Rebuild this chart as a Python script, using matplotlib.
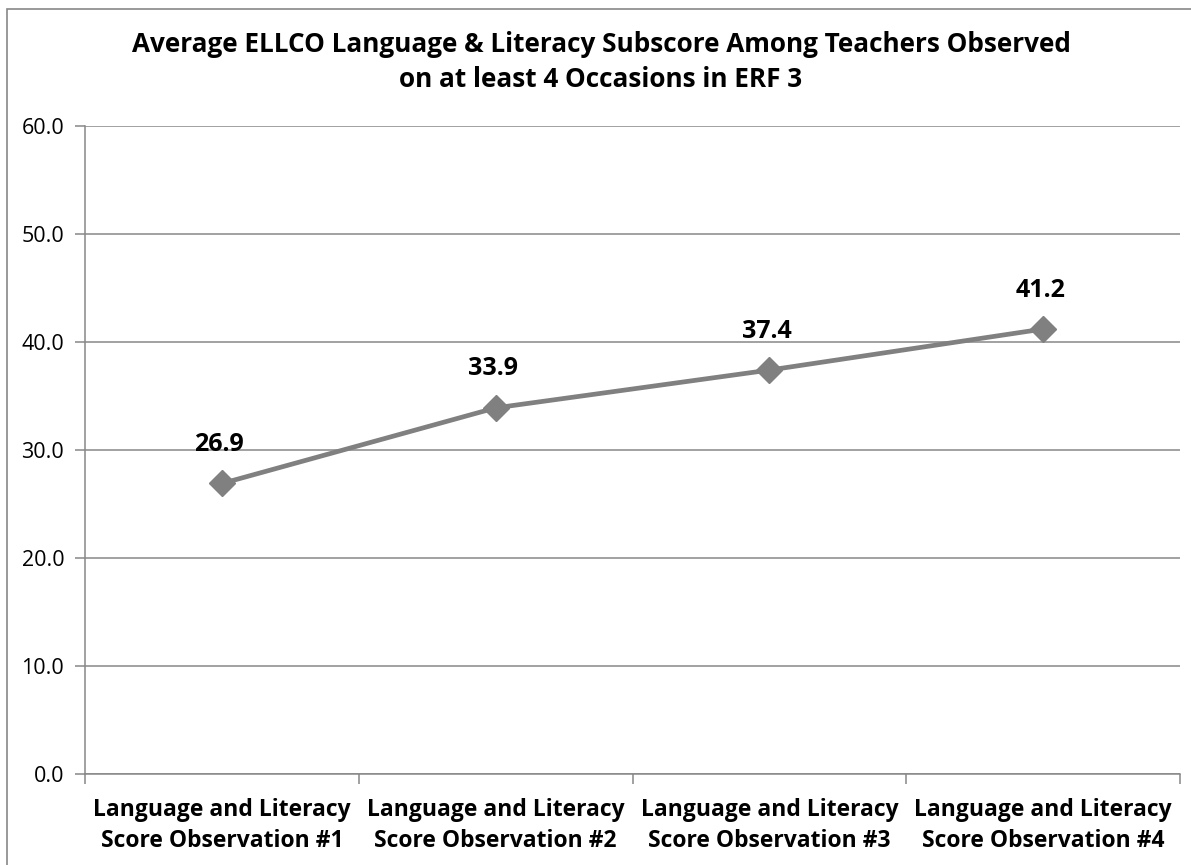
import matplotlib.pyplot as plt
from matplotlib.patches import Rectangle

plt.rcParams['font.family'] = ['Open Sans', 'DejaVu Sans']

categories = ['Language and Literacy\nScore Observation #1',
              'Language and Literacy\nScore Observation #2',
              'Language and Literacy\nScore Observation #3',
              'Language and Literacy\nScore Observation #4']
scores = [26.9, 33.9, 37.4, 41.2]
y_ticks = [0, 10, 20, 30, 40, 50, 60]

W, H = 1191, 865
fig = plt.figure(figsize=(W / 100, H / 100), dpi=100)
ax = fig.add_axes([85 / W, 1 - 774 / H, (1180 - 85) / W, (774 - 126) / H])

grid_col = '#878787'
line_col = '#808080'

# outer chart frame
fig.patches.append(Rectangle((7 / W, -0.05), 1.2, 1 - 9 / H + 0.05,
                             transform=fig.transFigure, fill=False,
                             edgecolor=grid_col, linewidth=1.2))

x = list(range(len(scores)))
ax.plot(x, scores, color=line_col, linewidth=3.4, marker='D',
        markersize=13, markerfacecolor=line_col, markeredgecolor=line_col,
        zorder=3)
for xi, v in zip(x, scores):
    ax.annotate(f'{v:.1f}', (xi, v), xytext=(-2, 28), textcoords='offset points',
                ha='center', va='center', fontsize=18, fontweight='bold')

ax.set_xlim(-0.5, len(scores) - 0.5)
ax.set_ylim(0, 60)
ax.set_yticks(y_ticks)
ax.set_yticklabels([f'{t:.1f}' for t in y_ticks], fontsize=15.5)
ax.yaxis.grid(True, color=grid_col, linewidth=1.1)
ax.set_axisbelow(True)

# category labels between boundary ticks
ax.set_xticks([i - 0.5 for i in range(len(scores) + 1)])
ax.set_xticklabels([])
ax.set_xticks(x, minor=True)
ax.set_xticklabels(categories, minor=True, fontsize=16.5, fontweight='bold',
                   linespacing=1.42)
ax.tick_params(axis='x', which='minor', length=0, pad=17)
ax.tick_params(axis='x', which='major', length=7, color=grid_col, width=1.1)
ax.tick_params(axis='y', length=7, color=grid_col, width=1.1, pad=8)

for side in ['top', 'right']:
    ax.spines[side].set_visible(False)
for side in ['left', 'bottom']:
    ax.spines[side].set_color(grid_col)
    ax.spines[side].set_linewidth(1.1)

fig.text(601 / W, 1 - 62 / H,
         'Average ELLCO Language & Literacy Subscore Among Teachers Observed\n'
         'on at least 4 Occasions in ERF 3',
         ha='center', va='center', fontsize=18.8, fontweight='bold',
         linespacing=1.38)

fig.savefig('out.png', dpi=100)
